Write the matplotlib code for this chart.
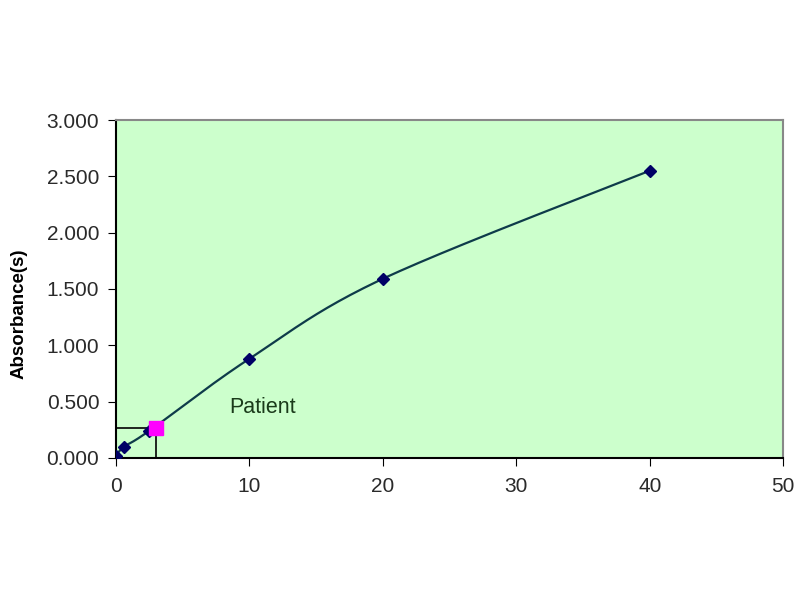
import numpy as np
import matplotlib
matplotlib.use("Agg")
import matplotlib.pyplot as plt

plt.rcParams['font.family'] = ['Liberation Sans', 'DejaVu Sans']

conc = [0, 0.625, 2.5, 10, 20, 40]
absorb = [0.02, 0.10, 0.24, 0.88, 1.59, 2.55]
patient_x = [3.0]
patient_y = [0.265]
xticks = [0, 10, 20, 30, 40, 50]
yticks = [0.0, 0.5, 1.0, 1.5, 2.0, 2.5, 3.0]


def catmull_rom(xs, ys, n=40):
    P = np.column_stack([xs, ys]).astype(float)
    P = np.vstack([P[0], P, P[-1]])
    out = []
    for i in range(1, len(P) - 2):
        p0, p1, p2, p3 = P[i - 1], P[i], P[i + 1], P[i + 2]
        t = np.linspace(0, 1, n)[:, None]
        seg = 0.5 * ((2 * p1) + (-p0 + p2) * t + (2 * p0 - 5 * p1 + 4 * p2 - p3) * t ** 2
                     + (-p0 + 3 * p1 - 3 * p2 + p3) * t ** 3)
        out.append(seg)
    out = np.vstack(out)
    return out[:, 0], out[:, 1]


fig = plt.figure(figsize=(8, 6), dpi=100)
ax = fig.add_axes([0.145, 0.237, 0.834, 0.563])
ax.set_facecolor('#CCFFCC')

sx, sy = catmull_rom(conc, absorb)
ax.plot(sx, sy, color='#0E3B4A', lw=1.6, zorder=2)
ax.plot(conc, absorb, linestyle='none', marker='D', ms=6, color='#000066', zorder=3)

# patient guide lines
ax.plot([0, patient_x[0]], [patient_y[0], patient_y[0]], color='black', lw=1.2, zorder=2)
ax.plot([patient_x[0], patient_x[0]], [0, patient_y[0]], color='black', lw=1.2, zorder=2)
ax.plot(patient_x, patient_y, linestyle='none', marker='s', ms=10, color='#FF00FF', zorder=4)
ax.text(8.5, 0.45, 'Patient', fontsize=15.5, color='#1a3a1a', va='center', ha='left')

ax.set_xlim(0, 50)
ax.set_ylim(0, 3.0)
ax.set_xticks(xticks)
ax.set_yticks(yticks)
ax.set_yticklabels([f'{v:.3f}' for v in yticks])
ax.tick_params(axis='both', labelsize=15, direction='out', length=6, color='black',
               labelcolor='#2a2a2a')
ax.tick_params(axis='x', pad=8)
ax.tick_params(axis='y', pad=6)
ax.set_ylabel('Absorbance(s)', fontsize=13.5, fontweight='bold')
ax.yaxis.set_label_coords(-0.132, 0.426)

ax.spines['left'].set_color('black')
ax.spines['bottom'].set_color('black')
ax.spines['top'].set_color('#888888')
ax.spines['right'].set_color('#888888')
for s in ax.spines.values():
    s.set_linewidth(1.5)

fig.savefig('out.png', dpi=100)
